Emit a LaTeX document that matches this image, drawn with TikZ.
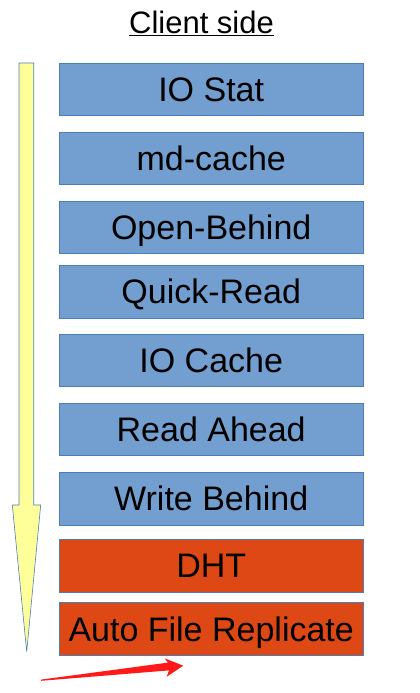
\documentclass[tikz,border=0pt]{standalone}
\usepackage{fontspec}
\setmainfont{Liberation Sans}
\usetikzlibrary{calc}
\definecolor{layerblue}{HTML}{729FCF}
\definecolor{layerorange}{HTML}{DD4814}
\definecolor{lineblue}{HTML}{4A7EBB}
\definecolor{flowyellow}{HTML}{FFFF99}
\definecolor{markred}{HTML}{FF1A1A}
\begin{document}
\begin{tikzpicture}[x=1pt,y=-1pt
                    ]
                % define styles
\tikzset{layer/.style={rectangle,
                       draw=lineblue,
                       line width=0.8pt,
                       inner sep=0,
                       minimum width=304pt,
                       minimum height=52.5pt,
                       text height=24pt,
                       text depth=0pt,
                       font=\fontsize{34}{40}\selectfont,
                       },
         xlator/.style={layer,
                       fill=layerblue,
                       },
         cluster/.style={layer,
                       fill=layerorange,
                       }
}

\useasboundingbox (0,0) rectangle (420,693);

% title
\node[font=\fontsize{31}{36}\selectfont] (title) at (201.5,23) {\underline{Client side}};

% translator stack
\foreach \name/\ypos/\txt in {iostat/89.3/IO Stat,
                              mdcache/158.2/md-cache,
                              openbehind/227.5/Open-Behind,
                              quickread/291.8/Quick-Read,
                              iocache/360.3/IO Cache,
                              readahead/429.5/Read Ahead,
                              writebehind/498.8/Write Behind}
    \node[xlator] (\name) at (211.2,\ypos) {\txt};

\node[cluster] (dht) at (211.2,565.7) {DHT};
\node[cluster] (afr) at (211.2,629.0) {Auto File Replicate};

% flow arrow
\path[draw=lineblue,fill=flowyellow,line width=0.6pt]
    (19.0,63.0) -- (33.7,63.0) -- (33.7,505.0) -- (40.7,505.0) --
    (26.7,651.7) -- (12.3,505.0) -- (19.0,505.0) -- cycle;

% marker arrow
\path[fill=markred]
    (41.0,679.6) -- (168.0,662.6) -- (164.5,658.3) --
    (183.3,665.7) -- (166.7,676.7) -- (169.0,670.4) --
    (41.0,680.8) -- cycle;

\end{tikzpicture}
\end{document}
